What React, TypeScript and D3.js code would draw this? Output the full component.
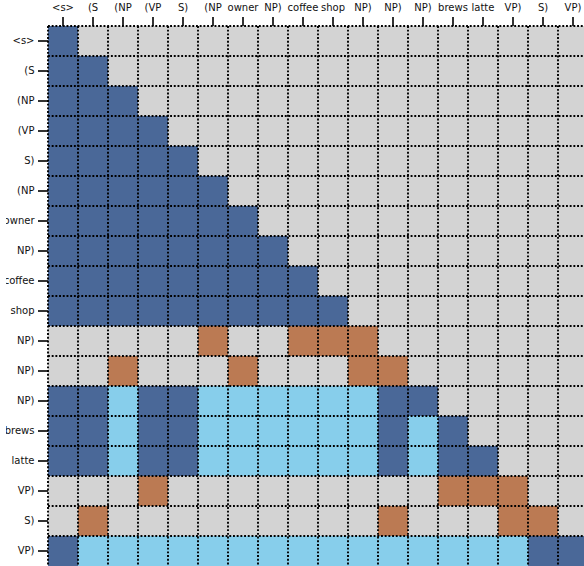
import { useEffect, useRef } from 'react';
import * as d3 from 'd3';

// tokens on both axes
const tokens = [
  '<s>', '(S', '(NP', '(VP', 'S)', '(NP', 'owner', 'NP)', 'coffee',
  'shop', 'NP)', 'NP)', 'NP)', 'brews', 'latte', 'VP)', 'S)', 'VP)',
];

// 0 = masked, 1 = attend, 2 = compose, 3 = stack
const cellClass: number[][] = [
  [1, 0, 0, 0, 0, 0, 0, 0, 0, 0, 0, 0, 0, 0, 0, 0, 0, 0],
  [1, 1, 0, 0, 0, 0, 0, 0, 0, 0, 0, 0, 0, 0, 0, 0, 0, 0],
  [1, 1, 1, 0, 0, 0, 0, 0, 0, 0, 0, 0, 0, 0, 0, 0, 0, 0],
  [1, 1, 1, 1, 0, 0, 0, 0, 0, 0, 0, 0, 0, 0, 0, 0, 0, 0],
  [1, 1, 1, 1, 1, 0, 0, 0, 0, 0, 0, 0, 0, 0, 0, 0, 0, 0],
  [1, 1, 1, 1, 1, 1, 0, 0, 0, 0, 0, 0, 0, 0, 0, 0, 0, 0],
  [1, 1, 1, 1, 1, 1, 1, 0, 0, 0, 0, 0, 0, 0, 0, 0, 0, 0],
  [1, 1, 1, 1, 1, 1, 1, 1, 0, 0, 0, 0, 0, 0, 0, 0, 0, 0],
  [1, 1, 1, 1, 1, 1, 1, 1, 1, 0, 0, 0, 0, 0, 0, 0, 0, 0],
  [1, 1, 1, 1, 1, 1, 1, 1, 1, 1, 0, 0, 0, 0, 0, 0, 0, 0],
  [0, 0, 0, 0, 0, 3, 0, 0, 3, 3, 3, 0, 0, 0, 0, 0, 0, 0],
  [0, 0, 3, 0, 0, 0, 3, 0, 0, 0, 3, 3, 0, 0, 0, 0, 0, 0],
  [1, 1, 2, 1, 1, 2, 2, 2, 2, 2, 2, 1, 1, 0, 0, 0, 0, 0],
  [1, 1, 2, 1, 1, 2, 2, 2, 2, 2, 2, 1, 2, 1, 0, 0, 0, 0],
  [1, 1, 2, 1, 1, 2, 2, 2, 2, 2, 2, 1, 2, 1, 1, 0, 0, 0],
  [0, 0, 0, 3, 0, 0, 0, 0, 0, 0, 0, 0, 0, 3, 3, 3, 0, 0],
  [0, 3, 0, 0, 0, 0, 0, 0, 0, 0, 0, 3, 0, 0, 0, 3, 3, 0],
  [1, 2, 2, 2, 2, 2, 2, 2, 2, 2, 2, 2, 2, 2, 2, 2, 1, 1],
];

const classColors = ['#d3d3d3', '#4a6898', '#87ceeb', '#bb7a53'];

export default function App() {
  const svgRef = useRef<SVGSVGElement>(null);
  const width = 584;
  const height = 566;

  useEffect(() => {
    if (!svgRef.current) return;
    const svg = d3.select(svgRef.current);
    svg.selectAll('*').remove();

    const left = 48;
    const top = 26;
    const cell = 30;
    const n = tokens.length;
    const idx = d3.range(n);

    const x = d3.scaleBand<number>().domain(idx).range([left, left + n * cell]).padding(0);
    const y = d3.scaleBand<number>().domain(idx).range([top, top + n * cell]).padding(0);
    const color = d3.scaleOrdinal<number, string>().domain([0, 1, 2, 3]).range(classColors);

    // labels on the left are cut a few px in from the edge
    svg.append('defs').append('clipPath')
      .attr('id', 'leftclip')
      .append('rect')
      .attr('x', 6).attr('y', 0)
      .attr('width', width).attr('height', height);

    const cells = cellClass.flatMap((row, i) => row.map((v, j) => ({ i, j, v })));

    svg.append('g')
      .selectAll('rect')
      .data(cells)
      .join('rect')
      .attr('x', d => x(d.j)!)
      .attr('y', d => y(d.i)!)
      .attr('width', x.bandwidth())
      .attr('height', y.bandwidth())
      .attr('fill', d => color(d.v));

    // dotted grid
    const grid = svg.append('g')
      .attr('stroke', '#000')
      .attr('stroke-width', 1.9)
      .attr('stroke-dasharray', '1.9,1.8');

    idx.forEach(k => {
      grid.append('line')
        .attr('x1', x(k)!).attr('x2', x(k)!)
        .attr('y1', top).attr('y2', top + n * cell);
    });
    idx.forEach(k => {
      grid.append('line')
        .attr('x1', left).attr('x2', left + n * cell)
        .attr('y1', y(k)!).attr('y2', y(k)!);
    });

    const fmt = (d: number) => tokens[d];

    const xAxis = svg.append('g')
      .attr('transform', `translate(0,${top})`)
      .call(d3.axisTop(x).tickFormat(fmt).tickSize(9).tickPadding(6));

    const yAxis = svg.append('g')
      .attr('clip-path', 'url(#leftclip)')
      .append('g')
      .attr('transform', `translate(${left},0)`)
      .call(d3.axisLeft(y).tickFormat(fmt).tickSize(10).tickPadding(3.5));

    [xAxis, yAxis].forEach(ax => {
      ax.select('.domain').remove();
      ax.selectAll('line').attr('stroke', '#000').attr('stroke-width', 1.6);
      ax.selectAll('text')
        .attr('fill', '#111')
        .attr('font-size', 10)
        .attr('font-family', 'DejaVu Sans');
    });
  }, []);

  return (
    <svg
      ref={svgRef}
      width={width}
      height={height}
      style={{ position: 'absolute', left: 0, top: 0, background: '#fff' }}
    ></svg>
  );
}
